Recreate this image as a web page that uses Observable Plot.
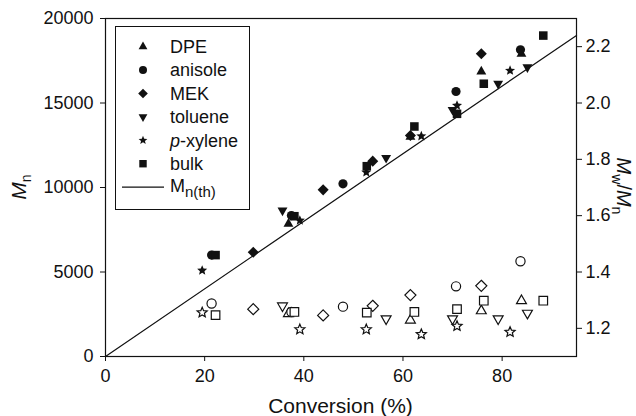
<!DOCTYPE html>
<html><head><meta charset="utf-8">
<script src="https://cdn.jsdelivr.net/npm/d3@7"></script>
<script src="https://cdn.jsdelivr.net/npm/@observablehq/plot@0.6"></script>
<style>
body{margin:0;background:#fff;}
#chart{width:636px;height:416px;}
</style></head><body><div id="chart"></div>
<script>
// ---- data ----
const seriesNames = ["DPE", "anisole", "MEK", "toluene", "p-xylene", "bulk"];

const dpeConv = [36.9, 61.5, 75.8, 83.9];
const dpeMn   = [7850, 13000, 16860, 17900];
const dpePDI  = [1.252, 1.229, 1.262, 1.298];

const anisoleConv = [21.4, 37.5, 47.9, 70.7, 83.7];
const anisoleMn   = [6000, 8340, 10220, 15680, 18150];
const anisolePDI  = [1.288, 1.258, 1.277, 1.349, 1.438];

const mekConv = [29.8, 43.9, 53.9, 61.5, 75.8];
const mekMn   = [6170, 9860, 11560, 13080, 17910];
const mekPDI  = [1.268, 1.246, 1.280, 1.318, 1.351];

const tolueneConv = [35.7, 56.6, 70.0, 79.2, 85.1];
const tolueneMn   = [8640, 11760, 14600, 16140, 17120];
const toluenePDI  = [1.280, 1.234, 1.234, 1.234, 1.254];

const xyleneConv = [19.5, 39.2, 52.6, 63.7, 70.9, 81.6];
const xyleneMn   = [5090, 8050, 10900, 13040, 14850, 16920];
const xylenePDI  = [1.256, 1.196, 1.196, 1.179, 1.208, 1.187];

const bulkConv = [22.2, 38.1, 52.7, 62.3, 70.9, 76.3, 88.3];
const bulkMn   = [6000, 8300, 11260, 13610, 14360, 16140, 18990];
const bulkPDI  = [1.247, 1.258, 1.256, 1.258, 1.268, 1.298, 1.298];

const thConv = [0, 95];
const thMn   = [0, 19000];

const xTicks   = [0, 20, 40, 60, 80];
const mnTicks  = [0, 5000, 10000, 15000, 20000];
const pdiTicks = [1.2, 1.4, 1.6, 1.8, 2.0, 2.2];
const mnDomain  = [0, 20000];
const pdiDomain = [1.1, 2.3];
const xDomain   = [0, 95];

// ---- symbols ----
const upTri = {draw(c, size){ const r=Math.sqrt(size/Math.PI); const w=2.2*r, h=w*0.87;
  c.moveTo(0,-h*2/3); c.lineTo(w/2,h/3); c.lineTo(-w/2,h/3); c.closePath(); }};
const downTri = {draw(c, size){ const r=Math.sqrt(size/Math.PI); const w=2.2*r, h=w*0.87;
  c.moveTo(0,h*2/3); c.lineTo(w/2,-h/3); c.lineTo(-w/2,-h/3); c.closePath(); }};
const circ = {draw(c, size){ const r=Math.sqrt(size/Math.PI); c.moveTo(r,0); c.arc(0,0,r,0,2*Math.PI); c.closePath(); }};
const diam = {draw(c, size){ const r=Math.sqrt(size/Math.PI)*1.2;
  c.moveTo(0,-r); c.lineTo(r,0); c.lineTo(0,r); c.lineTo(-r,0); c.closePath(); }};
const sq = {draw(c, size){ const r=Math.sqrt(size/Math.PI)*0.93;
  c.moveTo(-r,-r); c.lineTo(r,-r); c.lineTo(r,r); c.lineTo(-r,r); c.closePath(); }};
const star = {draw(c, size){ const r=Math.sqrt(size/Math.PI)*1.15; const ri=r*0.45;
  for (let i=0;i<10;i++){ const a=-Math.PI/2+i*Math.PI/5; const rr=i%2?ri:r;
    const x=rr*Math.cos(a), y=rr*Math.sin(a); if(i===0) c.moveTo(x,y); else c.lineTo(x,y);} c.closePath(); }};

const series = [
  {name:"DPE", conv:dpeConv, mn:dpeMn, pdi:dpePDI, sym:upTri, r:4.5},
  {name:"anisole", conv:anisoleConv, mn:anisoleMn, pdi:anisolePDI, sym:circ, r:4.6},
  {name:"MEK", conv:mekConv, mn:mekMn, pdi:mekPDI, sym:diam, r:4.6},
  {name:"toluene", conv:tolueneConv, mn:tolueneMn, pdi:toluenePDI, sym:downTri, r:4.5},
  {name:"p-xylene", conv:xyleneConv, mn:xyleneMn, pdi:xylenePDI, sym:star, r:4.6},
  {name:"bulk", conv:bulkConv, mn:bulkMn, pdi:bulkPDI, sym:sq, r:4.6}
];

// PDI values are drawn on the Mn scale through a linear map (dual axis)
const pdiToMn = p => (p - pdiDomain[0]) / (pdiDomain[1] - pdiDomain[0]) * (mnDomain[1] - mnDomain[0]) + mnDomain[0];
const mnToPdi = m => (m - mnDomain[0]) / (mnDomain[1] - mnDomain[0]) * (pdiDomain[1] - pdiDomain[0]) + pdiDomain[0];

const ink = "#111";
const marks = [];
const thRows = thConv.map((c,i)=>({conv:c, mn:thMn[i]}));
marks.push(Plot.line(thRows, {x:"conv", y:"mn", stroke:ink, strokeWidth:1.2}));
for (const s of series) {
  const rows = s.conv.map((c,i)=>({conv:c, mn:s.mn[i], pdi:pdiToMn(s.pdi[i])}));
  marks.push(Plot.dot(rows, {x:"conv", y:"pdi", symbol:s.sym, r:s.r, fill:"white", stroke:ink, strokeWidth:1.2}));
  marks.push(Plot.dot(rows, {x:"conv", y:"mn", symbol:s.sym, r:s.r, fill:ink, stroke:"none"}));
}
marks.push(Plot.frame({stroke:ink, strokeWidth:1.2}));
marks.push(Plot.axisX(xTicks, {tickSize:5, tickPadding:8, label:null, stroke:ink, tickFormat: d => String(d)}));
marks.push(Plot.axisY(mnTicks, {anchor:"left", tickSize:5, tickPadding:7, label:null, stroke:ink, tickFormat: d => String(d)}));
marks.push(Plot.axisY(pdiTicks.map(pdiToMn), {anchor:"right", tickSize:5, tickPadding:4, label:null, stroke:ink,
  tickFormat: d => mnToPdi(d).toFixed(1)}));

const chart = Plot.plot({
  width:636, height:416,
  marginLeft:105, marginRight:60, marginTop:18, marginBottom:60,
  x:{domain:xDomain},
  y:{domain:mnDomain},
  style:{fontFamily:"'Liberation Sans', Arial, sans-serif", fontSize:"18px", color:ink, background:"white"},
  marks
});
document.getElementById("chart").appendChild(chart);

// ---- titles and legend ----
const svg = d3.select(chart);
const font = "'Liberation Sans', Arial, sans-serif";
// x title
svg.append("text").attr("x", 340.5).attr("y", 413).attr("text-anchor","middle")
  .attr("font-family", font).attr("font-size", 21).attr("fill", ink).text("Conversion (%)");
// left title
const lt = svg.append("text").attr("transform","translate(26,187) rotate(-90)").attr("text-anchor","middle")
  .attr("font-family", font).attr("font-size", 21).attr("fill", ink);
lt.append("tspan").attr("font-style","italic").text("M");
lt.append("tspan").attr("font-size",14).attr("dy",5).text("n");
// right title
const rt = svg.append("text").attr("transform","translate(617,186) rotate(90)").attr("text-anchor","middle")
  .attr("font-family", font).attr("font-size", 20).attr("fill", ink);
rt.append("tspan").attr("font-style","italic").text("M");
rt.append("tspan").attr("font-size",14).attr("dy",5).text("w");
rt.append("tspan").attr("dy",-5).text("/");
rt.append("tspan").attr("font-style","italic").text("M");
rt.append("tspan").attr("font-size",14).attr("dy",5).text("n");

// legend
const lg = svg.append("g");
lg.append("rect").attr("x",115.5).attr("y",26.5).attr("width",134).attr("height",183)
  .attr("fill","white").attr("stroke",ink).attr("stroke-width",1);
const rowY = i => 46.7 + i*23.4;
series.forEach((s,i)=>{
  const p = d3.path(); s.sym.draw(p, Math.PI*4.0*4.0);
  lg.append("path").attr("d", p.toString()).attr("transform",`translate(143,${rowY(i)})`).attr("fill", ink);
  const t = lg.append("text").attr("x",170).attr("y",rowY(i)).attr("dy","0.35em").attr("text-anchor","start")
    .attr("font-family", font).attr("font-size",18).attr("fill", ink);
  if (s.name === "p-xylene") { t.append("tspan").attr("font-style","italic").text("p"); t.append("tspan").text("-xylene"); }
  else t.text(s.name);
});
const ly = rowY(6);
lg.append("line").attr("x1",122).attr("x2",164).attr("y1",ly).attr("y2",ly).attr("stroke",ink).attr("stroke-width",1.2);
const mt = lg.append("text").attr("x",170).attr("y",ly).attr("dy","0.25em").attr("text-anchor","start")
  .attr("font-family", font).attr("font-size",18).attr("fill", ink);
mt.append("tspan").text("M");
mt.append("tspan").attr("font-size",15).attr("dy",5).text("n(th)");
</script>
</body></html>
